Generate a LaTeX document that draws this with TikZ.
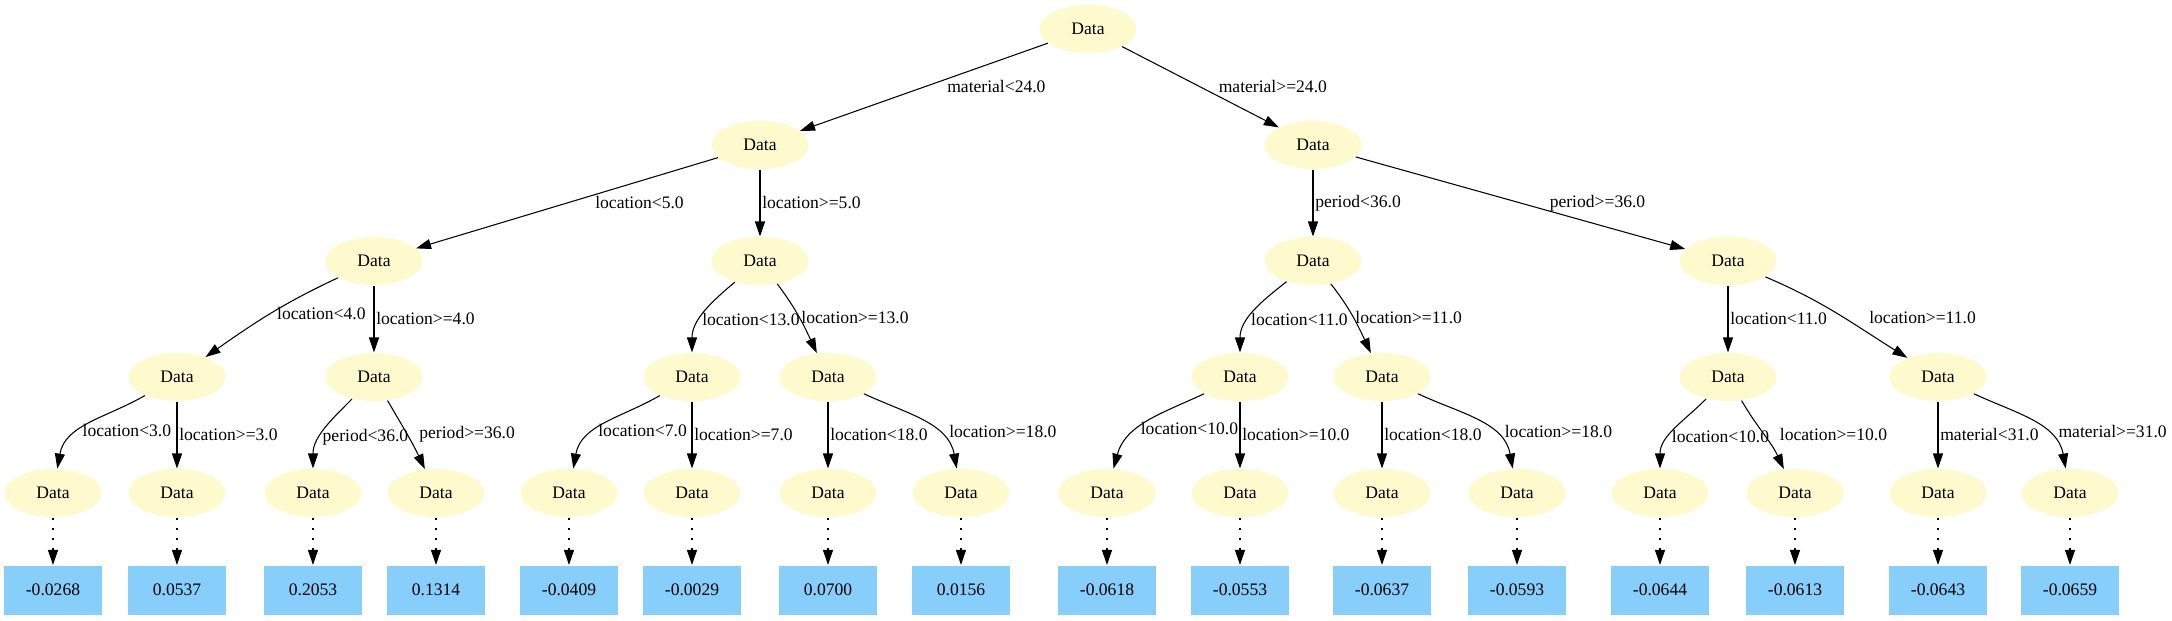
\documentclass[tikz,border=0pt]{standalone}
\usepackage{fontspec}
\setmainfont{Liberation Serif}
\usepackage{tikz}
\usetikzlibrary{arrows.meta, positioning, shapes.geometric}
\definecolor{lemonchiffon}{HTML}{FFFACD}
\definecolor{lightskyblue}{HTML}{87CEFA}

\begin{document}
\begin{tikzpicture}[node distance=2.32cm, on grid, line width=0.6pt,
    >={Triangle[length=3mm, width=2mm]},
    data/.style={ellipse, fill=lemonchiffon, minimum width=1.94cm, minimum height=0.96cm, inner sep=0pt},
    leaf/.style={rectangle, fill=lightskyblue, minimum width=1.96cm, minimum height=0.98cm},
    lbl/.style={right, inner sep=1pt},
    dots/.style={dash pattern=on 1.2pt off 4.5pt}]
      \useasboundingbox (-21.76,0.58) rectangle (21.68,-11.82);
      \node[data] (n_0) {Data};
      \node[data] (n_1) [below left=2.32cm and 6.56cm of n_0] {Data};
      \node[data] (n_2) [below right=2.32cm and 4.5cm of n_0] {Data};
      \node[data] (n_3) [below left=2.32cm and 7.72cm of n_1] {Data};
      \node[data] (n_4) [below=of n_1] {Data};
      \node[data] (n_5) [below=of n_2] {Data};
      \node[data] (n_6) [below right=2.32cm and 8.3cm of n_2] {Data};
      \node[data] (n_7) [below left=2.32cm and 3.94cm of n_3] {Data};
      \node[data] (n_8) [below=of n_3] {Data};
      \node[data] (n_9) [below left=2.32cm and 1.36cm of n_4] {Data};
      \node[data] (n_10) [below right=2.32cm and 1.36cm of n_4] {Data};
      \node[data] (n_11) [below left=2.32cm and 1.46cm of n_5] {Data};
      \node[data] (n_12) [below right=2.32cm and 1.38cm of n_5] {Data};
      \node[data] (n_13) [below=of n_6] {Data};
      \node[data] (n_14) [below right=2.32cm and 4.2cm of n_6] {Data};
      \node[data] (n_15) [below left=2.32cm and 2.48cm of n_7] {Data};
      \node[data] (n_16) [below=of n_7] {Data};
      \node[data] (n_17) [below left=2.32cm and 1.22cm of n_8] {Data};
      \node[data] (n_18) [below right=2.32cm and 1.24cm of n_8] {Data};
      \node[data] (n_19) [below left=2.32cm and 2.46cm of n_9] {Data};
      \node[data] (n_20) [below=of n_9] {Data};
      \node[data] (n_21) [below=of n_10] {Data};
      \node[data] (n_22) [below right=2.32cm and 2.66cm of n_10] {Data};
      \node[data] (n_23) [below left=2.32cm and 2.66cm of n_11] {Data};
      \node[data] (n_24) [below=of n_11] {Data};
      \node[data] (n_25) [below=of n_12] {Data};
      \node[data] (n_26) [below right=2.32cm and 2.7cm of n_12] {Data};
      \node[data] (n_27) [below left=2.32cm and 1.36cm of n_13] {Data};
      \node[data] (n_28) [below right=2.32cm and 1.34cm of n_13] {Data};
      \node[data] (n_29) [below=of n_14] {Data};
      \node[data] (n_30) [below right=2.32cm and 2.64cm of n_14] {Data};
      \node[leaf] (l_0) [below=1.94cm of n_15] {-0.0268};
      \node[leaf] (l_1) [below=1.94cm of n_16] {0.0537};
      \node[leaf] (l_2) [below=1.94cm of n_17] {0.2053};
      \node[leaf] (l_3) [below=1.94cm of n_18] {0.1314};
      \node[leaf] (l_4) [below=1.94cm of n_19] {-0.0409};
      \node[leaf] (l_5) [below=1.94cm of n_20] {-0.0029};
      \node[leaf] (l_6) [below=1.94cm of n_21] {0.0700};
      \node[leaf] (l_7) [below=1.94cm of n_22] {0.0156};
      \node[leaf] (l_8) [below=1.94cm of n_23] {-0.0618};
      \node[leaf] (l_9) [below=1.94cm of n_24] {-0.0553};
      \node[leaf] (l_10) [below=1.94cm of n_25] {-0.0637};
      \node[leaf] (l_11) [below=1.94cm of n_26] {-0.0593};
      \node[leaf] (l_12) [below=1.94cm of n_27] {-0.0644};
      \node[leaf] (l_13) [below=1.94cm of n_28] {-0.0613};
      \node[leaf] (l_14) [below=1.94cm of n_29] {-0.0643};
      \node[leaf] (l_15) [below=1.94cm of n_30] {-0.0659};
      \path[->]
      (n_0) edge node[lbl, right=0.42cm] {material<24.0} (n_1)
            edge node[lbl, right=0.32cm] {material>=24.0} (n_2);
      \path[->]
      (n_1) edge node[lbl, right=0.52cm] {location<5.0} (n_3)
            edge node[lbl] {location>=5.0} (n_4);
      \path[->]
      (n_2) edge node[lbl] {period<36.0} (n_5)
            edge node[lbl, right=0.54cm] {period>=36.0} (n_6);
      \path[->]
      (n_3) edge [out=205, in=35] node[lbl, right=0.1cm] {location<4.0} (n_7)
            edge node[lbl] {location>=4.0} (n_8);
      \path[->]
      (n_4) edge [out=220, in=90] node[lbl, pos=.6] {location<13.0} (n_9)
            edge [out=-53, in=115] node[lbl] {location>=13.0} (n_10);
      \path[->]
      (n_5) edge [out=218, in=90] node[lbl, pos=.6] {location<11.0} (n_11)
            edge [out=-52, in=115] node[lbl] {location>=11.0} (n_12);
      \path[->]
      (n_6) edge node[lbl] {location<11.0} (n_13)
            edge [out=-23, in=148] node[lbl, pos=.55, right=0.45cm] {location>=11.0} (n_14);
      \path[->]
      (n_7) edge [out=210, in=80] node[lbl, pos=.6] {location<3.0} (n_15)
            edge node[lbl] {location>=3.0} (n_16);
      \path[->]
      (n_8) edge [out=225, in=90] node[lbl, pos=.6] {period<36.0} (n_17)
            edge [out=-60, in=115] node[lbl, right=0.2cm] {period>=36.0} (n_18);
      \path[->]
      (n_9) edge [out=210, in=80] node[lbl, pos=.6] {location<7.0} (n_19)
            edge node[lbl] {location>=7.0} (n_20);
      \path[->]
      (n_10) edge node[lbl] {location<18.0} (n_21)
             edge [out=-25, in=100] node[lbl, pos=.65, right=0.2cm] {location>=18.0} (n_22);
      \path[->]
      (n_11) edge [out=205, in=75] node[lbl, pos=.6] {location<10.0} (n_23)
             edge node[lbl] {location>=10.0} (n_24);
      \path[->]
      (n_12) edge node[lbl] {location<18.0} (n_25)
             edge [out=-25, in=100] node[lbl, pos=.65, right=0.2cm] {location>=18.0} (n_26);
      \path[->]
      (n_13) edge [out=225, in=90] node[lbl, pos=.6] {location<10.0} (n_27)
             edge [out=-60, in=115] node[lbl, right=0.28cm] {location>=10.0} (n_28);
      \path[->]
      (n_14) edge node[lbl] {material<31.0} (n_29)
             edge [out=-25, in=100] node[lbl, pos=.65, right=0.2cm] {material>=31.0} (n_30);
      \path[->, dots]
      (n_15) edge (l_0) (n_16) edge (l_1) (n_17) edge (l_2) (n_18) edge (l_3)
      (n_19) edge (l_4) (n_20) edge (l_5) (n_21) edge (l_6) (n_22) edge (l_7)
      (n_23) edge (l_8) (n_24) edge (l_9) (n_25) edge (l_10) (n_26) edge (l_11)
      (n_27) edge (l_12) (n_28) edge (l_13) (n_29) edge (l_14) (n_30) edge (l_15);
    \end{tikzpicture}
\end{document}
